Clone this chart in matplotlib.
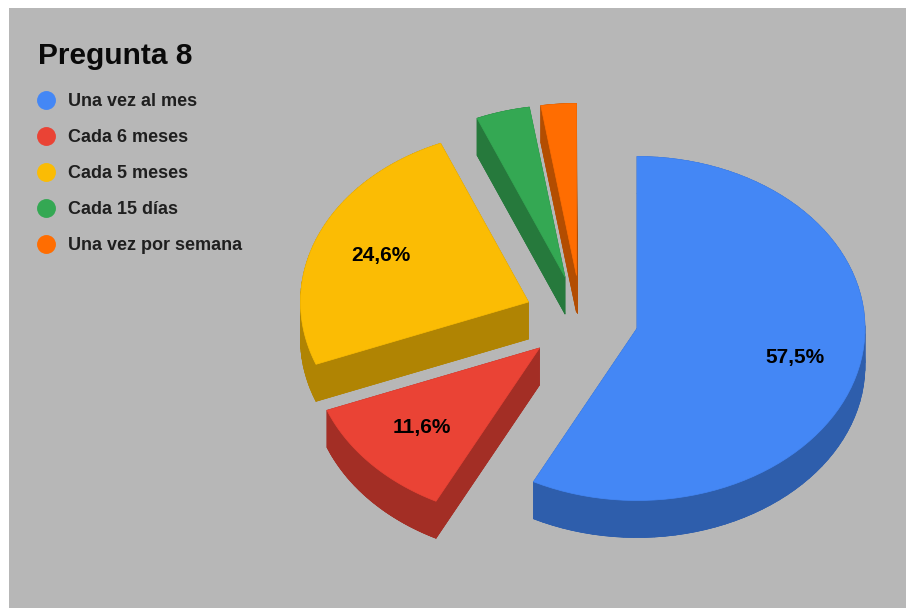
import numpy as np
import matplotlib as mpl
import matplotlib.pyplot as plt
from matplotlib.collections import PolyCollection
from matplotlib.patches import Rectangle

mpl.rcParams['font.family'] = ['Liberation Sans', 'DejaVu Sans']

title = 'Pregunta 8'
categories = ['Una vez al mes', 'Cada 6 meses', 'Cada 5 meses', 'Cada 15 días', 'Una vez por semana']
values = [57.5, 11.6, 24.6, 3.8, 2.5]

top_colors = ['#4487f5', '#ea4335', '#fbbc04', '#34a853', '#ff6d01']
side_colors = ['#2e5eac', '#a32e25', '#b08403', '#26793c', '#b34d01']

# where each exploded slice has its tip, in pixels
origins = [(637, 328.5), (539.5, 348), (528.5, 302), (565, 277), (576.5, 275.5)]
# label centres, None means the slice is too small to get one
label_pos = [(795, 358), (422, 428), (381, 255), None, None]

rx, ry = 228, 172
depth = 37

fig = plt.figure(figsize=(9.06, 6.08), dpi=100, facecolor='white')
ax = fig.add_axes([0, 0, 1, 1])
ax.set_xlim(0, 906)
ax.set_ylim(608, 0)
ax.axis('off')
ax.add_patch(Rectangle((9, 8), 897, 600, facecolor='#b7b7b7', edgecolor='none'))

# angles run clockwise from 12 o'clock
edges = np.concatenate([[0], np.cumsum(values)]) / sum(values) * 2 * np.pi

for i in range(len(values)):
    cx, cy = origins[i]
    t = np.linspace(edges[i], edges[i + 1], 80)
    x = np.concatenate([[cx], cx + rx * np.sin(t)])
    y = np.concatenate([[cy], cy - ry * np.cos(t)])
    top = np.column_stack([x, y])
    bottom = top + [0, depth]

    # extrude every outline segment downwards, the top face hides the rest
    quads = []
    for j in range(len(top)):
        k = (j + 1) % len(top)
        quads.append([top[j], top[k], bottom[k], bottom[j]])
    ax.add_collection(PolyCollection(quads, facecolors=side_colors[i],
                                     edgecolors=side_colors[i], linewidths=0.5))
    ax.fill(bottom[:, 0], bottom[:, 1], color=side_colors[i], lw=0.5)
    ax.fill(top[:, 0], top[:, 1], color=top_colors[i], lw=0.5)

    if label_pos[i] is not None:
        txt = f'{values[i]:.1f}%'.replace('.', ',')
        ax.text(label_pos[i][0], label_pos[i][1], txt, fontsize=15, fontweight='bold',
                color='black', ha='center', va='center')

ax.text(38, 55.5, title, fontsize=21.5, fontweight='bold', color='#0a0a0a', ha='left', va='center')

# legend
for i, name in enumerate(categories):
    yy = 100 + 36 * i
    ax.scatter([46], [yy], s=185, color=top_colors[i], linewidths=0)
    ax.text(68, yy + 1, name, fontsize=13, fontweight='bold', color='#1f1f1f', ha='left', va='center')

plt.savefig('out.png', dpi=100)
